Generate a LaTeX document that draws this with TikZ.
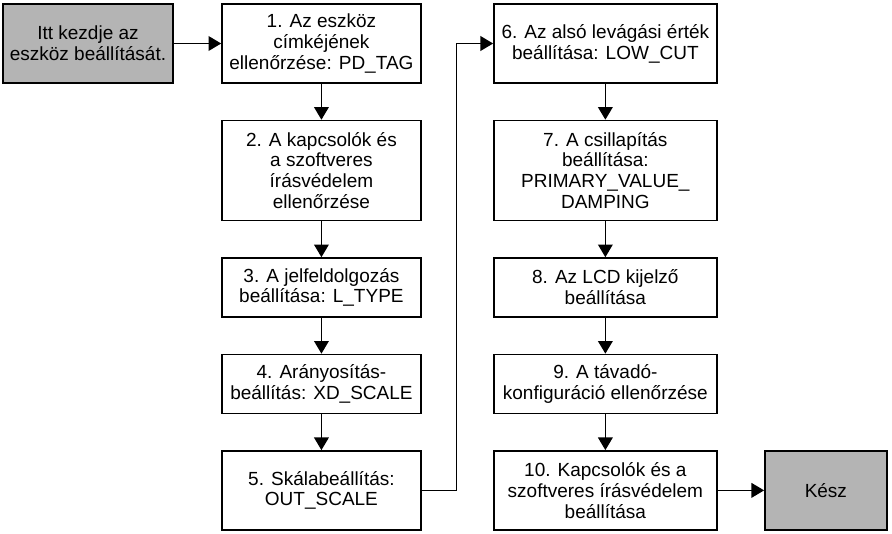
\documentclass[tikz,border=0pt]{standalone}
\usepackage{fontspec}
\setmainfont{Liberation Sans}
\usepackage{tikz}
\usetikzlibrary{arrows.meta, positioning, calc}
\definecolor{mydark}{RGB}{0,0,0}
\definecolor{hdrgray}{RGB}{180,180,180}
\tikzset{
  stepbox/.style={rectangle, draw=mydark, fill=white, align=center,
    inner sep=2pt, line width=1.1pt, minimum width=149.25pt,
    font=\fontsize{14.25pt}{15.6pt}\selectfont},
  widebox/.style={stepbox, minimum width=167.25pt},
  endbox/.style={stepbox, fill=hdrgray},
  arrow/.style={-{Triangle[length=9.5pt,width=11pt]}, line width=1.1pt, color=mydark}
}

\begin{document}
\begin{tikzpicture}[x=0.75pt, y=-0.75pt, node distance=27pt]
  \useasboundingbox (0,0) rectangle (892,533);

  % start
  \node[endbox, minimum width=127.5pt, minimum height=59.25pt] (start) at (88,43.5)
    {Itt kezdje az\\eszköz beállítását.};

  % left column
  \node[stepbox, minimum height=59.25pt, right=35.6pt of start] (b1)
    {1. Az eszköz\\címkéjének\\ellenőrzése: PD\_TAG};
  \node[stepbox, minimum height=75pt, below=of b1] (b2)
    {2. A kapcsolók és\\a szoftveres\\írásvédelem\\ellenőrzése};
  \node[stepbox, minimum height=44.25pt, below=of b2] (b3)
    {3. A jelfeldolgozás\\beállítása: L\_TYPE};
  \node[stepbox, minimum height=44.25pt, below=of b3] (b4)
    {4. Arányosítás-\\beállítás: XD\_SCALE};
  \node[stepbox, minimum height=59.25pt, below=of b4] (b5)
    {5. Skálabeállítás:\\OUT\_SCALE};

  % right column
  \node[widebox, minimum height=59.25pt, right=53.6pt of b1] (b6)
    {6. Az alsó levágási érték\\beállítása: LOW\_CUT};
  \node[widebox, minimum height=75pt, below=of b6] (b7)
    {7. A csillapítás\\beállítása:\\PRIMARY\_VALUE\_\\DAMPING};
  \node[widebox, minimum height=44.25pt, below=of b7] (b8)
    {8. Az LCD kijelző\\beállítása};
  \node[widebox, minimum height=44.25pt, below=of b8] (b9)
    {9. A távadó-\\konfiguráció ellenőrzése};
  \node[widebox, minimum height=59.25pt, below=of b9] (b10)
    {10. Kapcsolók és a\\szoftveres írásvédelem\\beállítása};

  \node[endbox, minimum width=91.5pt, minimum height=59.25pt, right=34.9pt of b10] (done) {Kész};

  \draw[arrow] (start) -- (b1);
  \draw[arrow] (b1) -- (b2);
  \draw[arrow] (b2) -- (b3);
  \draw[arrow] (b3) -- (b4);
  \draw[arrow] (b4) -- (b5);
  \draw[arrow] (b5.east) -- ++(26pt,0) |- (b6.west);
  \draw[arrow] (b6) -- (b7);
  \draw[arrow] (b7) -- (b8);
  \draw[arrow] (b8) -- (b9);
  \draw[arrow] (b9) -- (b10);
  \draw[arrow] (b10) -- (done);
\end{tikzpicture}
\end{document}
